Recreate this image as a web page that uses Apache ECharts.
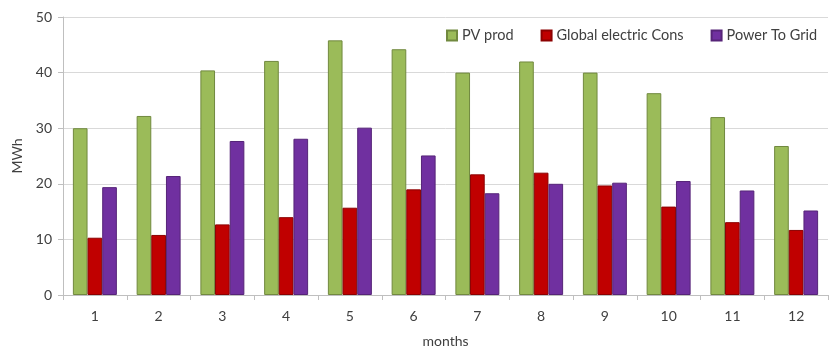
<!DOCTYPE html>
<html>
<head>
<meta charset="utf-8">
<script src="https://cdn.jsdelivr.net/npm/echarts@6/dist/echarts.min.js"></script>
<style>
  html, body { margin: 0; padding: 0; background: #fff; }
  #chart { width: 833px; height: 349px; }
</style>
</head>
<body>
<div id="chart"></div>
<script>
// Monthly energy balance (MWh)
const months = ['1', '2', '3', '4', '5', '6', '7', '8', '9', '10', '11', '12'];
const pvProd = [30.0, 32.2, 40.4, 42.1, 45.8, 44.2, 40.0, 42.0, 40.0, 36.3, 32.0, 26.8];
const globalCons = [10.3, 10.8, 12.7, 14.0, 15.7, 19.0, 21.7, 22.0, 19.7, 15.9, 13.1, 11.7];
const powerToGrid = [19.4, 21.4, 27.7, 28.1, 30.1, 25.1, 18.3, 20.0, 20.2, 20.5, 18.8, 15.2];
const yTicks = [0, 10, 20, 30, 40, 50];

const textColor = '#404040';
const fontFamily = 'Lato, "Open Sans", sans-serif';

const chart = echarts.init(document.getElementById('chart'), null, { renderer: 'canvas' });

function barSeries(name, data, color, border) {
  return {
    name: name,
    type: 'bar',
    data: data,
    barGap: '0%',
    barCategoryGap: '31%',
    itemStyle: { color: color, borderColor: border, borderWidth: 1 }
  };
}

chart.setOption({
  animation: false,
  textStyle: { fontFamily: fontFamily },
  grid: { left: 63, right: 5, top: 17, bottom: 54, containLabel: false, outerBoundsMode: 'none' },
  legend: {
    top: 23,
    left: 441,
    itemWidth: 10,
    itemHeight: 10,
    itemGap: 27,
    icon: 'rect',
    textStyle: { color: textColor, fontSize: 14.5, fontFamily: fontFamily },
    data: ['PV prod', 'Global electric Cons', 'Power To Grid']
  },
  xAxis: {
    type: 'category',
    data: months,
    name: 'months',
    nameLocation: 'middle',
    nameGap: 39,
    nameTextStyle: { color: textColor, fontSize: 14 },
    axisLine: { lineStyle: { color: '#bfbfbf' } },
    axisTick: { show: true, alignWithLabel: false, length: 5, lineStyle: { color: '#bfbfbf' } },
    axisLabel: { color: textColor, fontSize: 14, margin: 14 }
  },
  yAxis: {
    type: 'value',
    min: yTicks[0],
    max: yTicks[yTicks.length - 1],
    interval: 10,
    name: 'MWh',
    nameLocation: 'middle',
    nameGap: 37,
    nameRotate: 90,
    nameTextStyle: { color: textColor, fontSize: 14 },
    axisLine: { show: true, lineStyle: { color: '#bfbfbf' } },
    axisTick: { show: true, length: 5, lineStyle: { color: '#bfbfbf' } },
    axisLabel: { color: textColor, fontSize: 14, margin: 11 },
    splitLine: { lineStyle: { color: '#d9d9d9' } }
  },
  series: [
    barSeries('PV prod', pvProd, '#9BBB59', '#71893f'),
    barSeries('Global electric Cons', globalCons, '#C00000', '#8c0000'),
    barSeries('Power To Grid', powerToGrid, '#7030A0', '#562478')
  ]
});
</script>
</body>
</html>
